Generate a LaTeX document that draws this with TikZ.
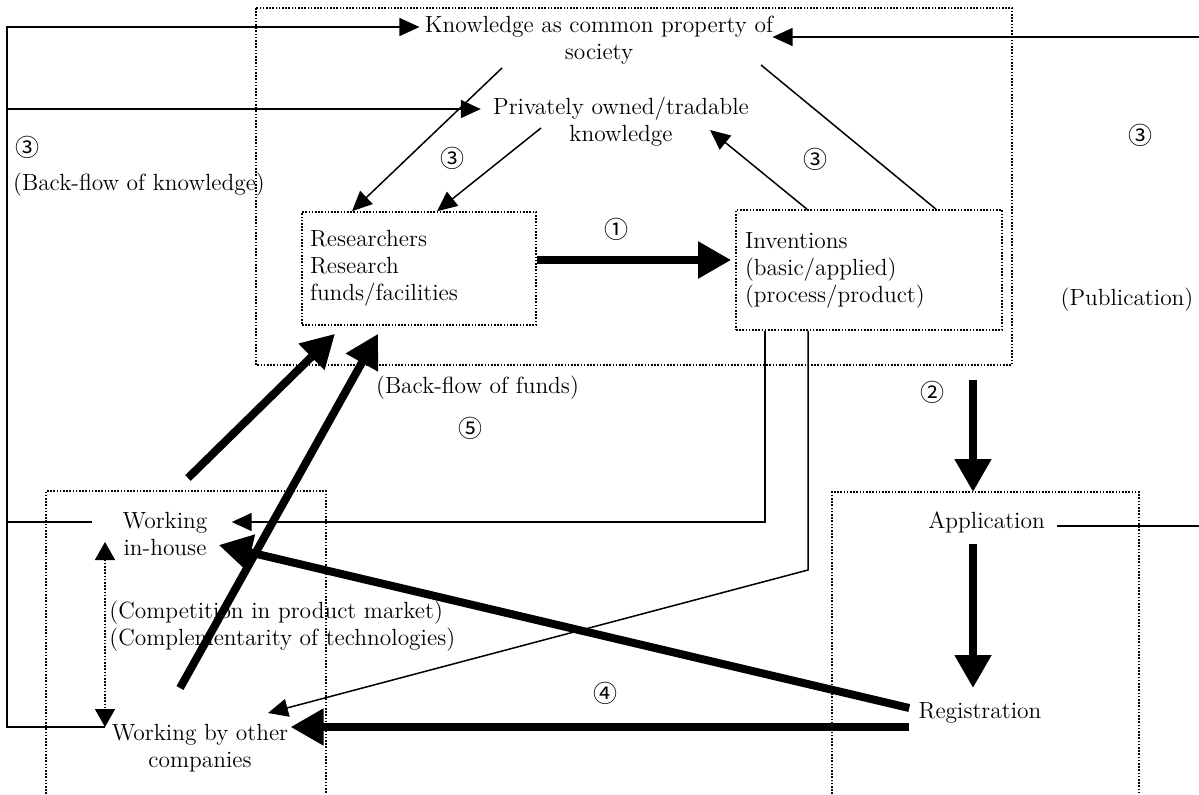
\documentclass[tikz,border=0pt]{standalone}
\usepackage{fontspec}
\newfontfamily\numfont{Noto Sans CJK JP}
\usetikzlibrary{arrows.meta}

\begin{document}
\begin{tikzpicture}[x=0.5pt,y=-0.5pt,
    every node/.style={font=\fontsize{11.7}{13.5}\selectfont, inner sep=1pt},
    num/.style={font=\numfont\fontsize{12}{13.5}\selectfont},
    frame/.style={line width=0.8pt, dash pattern=on 0.8pt off 0.8pt},
    thinline/.style={line width=0.75pt},
    thinarrow/.style={line width=0.75pt, -{Triangle[length=10pt,width=9pt]}},
    thickarrow/.style={line width=4pt, -{Triangle[length=16.5pt,width=17.5pt]}}]
    \useasboundingbox (0,0) rectangle (1199,794);

    % frames
    \draw[frame] (256,8) rectangle (1012,365);
    \draw[frame] (46,794) -- (46,491) -- (326,491) -- (326,794);
    \draw[frame] (832,794) -- (832,492) -- (1139,492) -- (1139,794);

    % kinds of knowledge
    \node[align=center] (know) at (599,40.5) {Knowledge as common property of\\society};
    \node[align=center] (priv) at (621,122) {Privately owned/tradable\\knowledge};

    % research and inventions
    \node[frame, draw, align=left, text width=109pt, inner xsep=4pt,
          minimum width=117pt, minimum height=56.5pt] (res) at (419,268.5)
          {Researchers\\Research\\funds/facilities};
    \node[frame, draw, align=left, text width=124pt, inner xsep=4.5pt,
          minimum width=133pt, minimum height=60pt] (inv) at (869,270)
          {Inventions\\(basic/applied)\\(process/product)};

    % patents and working
    \node (app) at (986.5,522) {Application};
    \node (reg) at (980,713) {Registration};
    \node[align=center] (wih) at (165,533.5) {Working\\in-house};
    \node[align=center] (wbo) at (200,748.5) {Working by other\\companies};
    \node[align=left, anchor=west, inner sep=0pt] (comp) at (109,626.5)
          {(Competition in product market)\\(Complementarity of technologies)};

    % labels
    \node[num] (n3a) at (28,147) {③};
    \node (bfk) at (139,185) {(Back-flow of knowledge)};
    \node[num] (n3b) at (452,158) {③};
    \node[num] (n3c) at (815,159) {③};
    \node[num] (n3d) at (1140,135) {③};
    \node[num] (n1) at (616,229) {①};
    \node (pub) at (1127,300) {(Publication)};
    \node (bff) at (477.5,388) {(Back-flow of funds)};
    \node[num] (n5) at (470,428) {⑤};
    \node[num] (n2) at (932,392) {②};
    \node[num] (n4) at (605,693) {④};

    % free ends
    \coordinate (wboL) at (105,727);
    \coordinate (wihL) at (92,522);
    \coordinate (wihUp) at (105,542);
    \coordinate (kStart) at (502,68);
    \coordinate (pStart) at (541,128);
    \coordinate (pTip) at (710,130);
    \coordinate (kEnd) at (761,65);
    \coordinate (bend) at (808,570);
    \coordinate (wboTip) at (268,713);
    \coordinate (fundA) at (188,478);
    \coordinate (fundB) at (180,688);
    \coordinate (twoTop) at (973,380);
    \coordinate (twoTip) at (973,492);
    \coordinate (appBot) at (973,544);
    \coordinate (regTop) at (973,688);
    \coordinate (rightTop) at (1199,37);
    \coordinate (rightApp) at (1199,526);

    % back-flow of knowledge
    \draw[thinarrow] (wboL) -- (7,727) -- (7,27) -- ([xshift=-1.5pt,yshift=6.75pt]know.west);
    \draw[thinarrow] (7,109) -- ([xshift=-5pt,yshift=6.5pt]priv.west);
    \draw[thinline] (wihL) -- (7,522);
    \draw[thinarrow] (rightTop) -- ([xshift=-1.5pt,yshift=1.75pt]know.east);
    \draw[thinline] ([xshift=5pt,yshift=-2pt]app.east) -- (rightApp);

    % knowledge to research, inventions to knowledge
    \draw[thinarrow] (kStart) -- ([xshift=-33.5pt]res.north);
    \draw[thinarrow] (pStart) -- ([xshift=9pt]res.north);
    \draw[thinarrow] ([xshift=-31pt]inv.north) -- (pTip);
    \draw[thinline] ([xshift=33.5pt]inv.north) -- (kEnd);

    % inventions to working
    \draw[thinarrow] ([xshift=-52pt]inv.south) |- ([xshift=11pt,yshift=5.75pt]wih.east);
    \draw[thinarrow] ([xshift=-30.5pt]inv.south) -- (bend) -- (wboTip);
    \draw[line width=0.75pt, dash pattern=on 0.8pt off 0.8pt,
          {Triangle[length=9pt,width=10pt]}-{Triangle[length=9pt,width=10pt]}] (wihUp) -- (wboL);

    % main flow
    \draw[thickarrow, shorten >=2pt] ([yshift=4.25pt]res.east) -- ([yshift=5pt]inv.west);
    \draw[thickarrow] (twoTop) -- (twoTip);
    \draw[thickarrow] (appBot) -- (regTop);
    \draw[thickarrow] ([xshift=-3.5pt,yshift=2.5pt]reg.west) -- ([xshift=4.5pt,yshift=-5.75pt]wih.east);
    \draw[thickarrow] ([xshift=-3.5pt,yshift=-7pt]reg.west) -- ([yshift=10.75pt]wbo.east);

    % back-flow of funds
    \draw[thickarrow] (fundA) -- ([xshift=-42pt,yshift=-4pt]res.south);
    \draw[thickarrow] (fundB) -- ([xshift=-20.5pt,yshift=-4pt]res.south);
\end{tikzpicture}
\end{document}
